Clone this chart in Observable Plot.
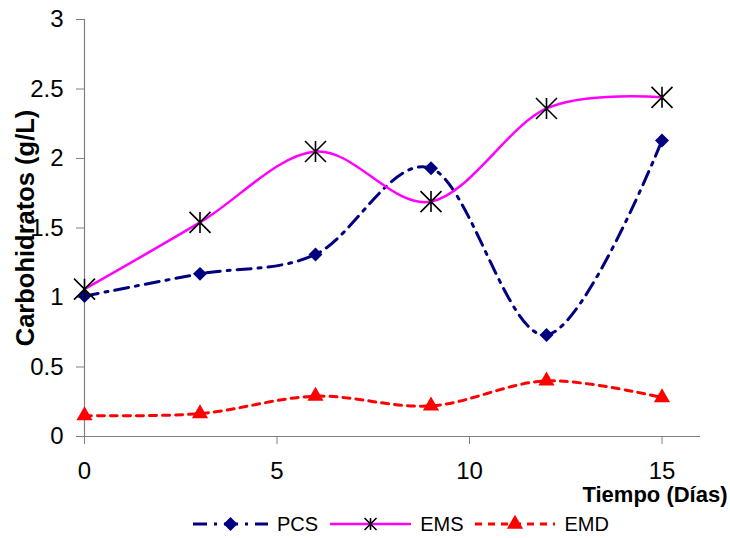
<!DOCTYPE html>
<html>
<head>
<meta charset="utf-8">
<script src="https://cdn.jsdelivr.net/npm/d3@7"></script>
<script src="https://cdn.jsdelivr.net/npm/@observablehq/plot@0.6"></script>
<style>
  body { margin: 0; background: #fff; font-family: "Liberation Sans", Arial, sans-serif; }
  #chart { position: relative; width: 730px; height: 538px; overflow: hidden; }
  #legend { position: absolute; left: 193px; top: 510px; height: 28px; display: flex; align-items: center; font-size: 20px; color: #000; }
  #legend .item { display: flex; align-items: center; margin-right: 12px; }
  #legend .item span { margin-left: 9px; }
</style>
</head>
<body>
<div id="chart"><div id="legend"></div></div>
<script>
// Sampling days and carbohydrate concentration (g/L) for each treatment
const days = [0, 3, 6, 9, 12, 15];
const pcs = [1.01, 1.17, 1.31, 1.93, 0.73, 2.13];
const ems = [1.06, 1.54, 2.05, 1.69, 2.36, 2.44];
const emd = [0.15, 0.165, 0.29, 0.22, 0.40, 0.28];
const seriesNames = ["PCS", "EMS", "EMD"];

const xTicks = [0, 5, 10, 15];
const yTicks = [0, 0.5, 1, 1.5, 2, 2.5, 3];
const xLabel = "Tiempo (Días)";
const yLabel = "Carbohidratos (g/L)";

// Star marker: vertical bar crossed by an X
const star = {
  draw(ctx, size) {
    const r = Math.sqrt(size / Math.PI);
    ctx.moveTo(0, -r); ctx.lineTo(0, r);
    ctx.moveTo(-r, -r); ctx.lineTo(r, r);
    ctx.moveTo(-r, r); ctx.lineTo(r, -r);
  }
};

const rows = (vals) => days.map((d, i) => ({day: d, value: vals[i]}));

const styles = {
  PCS: {stroke: "#000080", strokeWidth: 3, dash: "14,7,3,7", symbol: "diamond2", r: 6.3, fill: "#000080", mstroke: "none", mwidth: 0},
  EMS: {stroke: "#ff00ff", strokeWidth: 2.5, dash: null, symbol: star, r: 10.5, fill: "none", mstroke: "#000", mwidth: 1.6},
  EMD: {stroke: "#ff0000", strokeWidth: 3, dash: "7,6", symbol: "triangle", r: 6, fill: "#ff0000", mstroke: "none", mwidth: 0}
};
const seriesData = {PCS: pcs, EMS: ems, EMD: emd};

const fmt = d3.format("~g");

const marks = [
  Plot.ruleX([0], {y1: 0, y2: 3, stroke: "#808080", strokeWidth: 1.2}),
  Plot.ruleY([0], {x1: 0, x2: 16, stroke: "#808080", strokeWidth: 1.2}),
  Plot.axisX({ticks: xTicks, tickFormat: fmt, tickSize: 8, tickPadding: 17, stroke: "#808080", fill: "#000", fontSize: 24, label: null}),
  Plot.axisY({ticks: yTicks, tickFormat: fmt, tickSize: 8, tickPadding: 13, stroke: "#808080", fill: "#000", fontSize: 24, label: null}),
  Plot.text([xLabel], {text: d => d, frameAnchor: "bottom-right", textAnchor: "end", dx: 27, dy: 65, fontWeight: "bold", fontSize: 22, fill: "#000"}),
  Plot.text([yLabel], {text: d => d, frameAnchor: "left", textAnchor: "middle", rotate: -90, dx: -59, fontWeight: "bold", fontSize: 25.5, fill: "#000"})
];

for (const name of seriesNames) {
  const s = styles[name];
  const data = rows(seriesData[name]);
  marks.push(Plot.line(data, {x: "day", y: "value", curve: "cardinal", stroke: s.stroke, strokeWidth: s.strokeWidth, strokeDasharray: s.dash ?? undefined}));
}
for (const name of seriesNames) {
  const s = styles[name];
  const data = rows(seriesData[name]);
  marks.push(Plot.dot(data, {x: "day", y: "value", symbol: s.symbol, r: s.r, fill: s.fill, stroke: s.mstroke, strokeWidth: s.mwidth}));
}

const chart = Plot.plot({
  width: 730,
  height: 510,
  marginLeft: 84,
  marginRight: 30,
  marginTop: 19,
  marginBottom: 74,
  x: {domain: [0, 16]},
  y: {domain: [0, 3]},
  style: {fontFamily: "'Liberation Sans', Arial, sans-serif", fontSize: "20px", color: "#000", background: "#fff", overflow: "visible"},
  marks
});
document.getElementById("chart").prepend(chart);

// Legend below the plot
const legend = d3.select("#legend");
const swatchW = [75, 81, 80];
seriesNames.forEach((name, i) => {
  const s = styles[name];
  const item = legend.append("div").attr("class", "item");
  const svg = item.append("svg").attr("width", swatchW[i]).attr("height", 24);
  svg.append("line")
    .attr("x1", 0).attr("x2", swatchW[i]).attr("y1", 12).attr("y2", 12)
    .attr("stroke", s.stroke).attr("stroke-width", s.strokeWidth)
    .attr("stroke-dasharray", s.dash);
  const r = name === "EMS" ? 6 : s.r;
  const type = name === "PCS" ? d3.symbolDiamond2 : name === "EMD" ? d3.symbolTriangle : star;
  svg.append("path")
    .attr("transform", `translate(${swatchW[i] / 2},12)`)
    .attr("d", d3.symbol(type, Math.PI * r * r)())
    .attr("fill", s.fill).attr("stroke", s.mstroke).attr("stroke-width", s.mwidth);
  item.append("span").text(name);
});
</script>
</body>
</html>
